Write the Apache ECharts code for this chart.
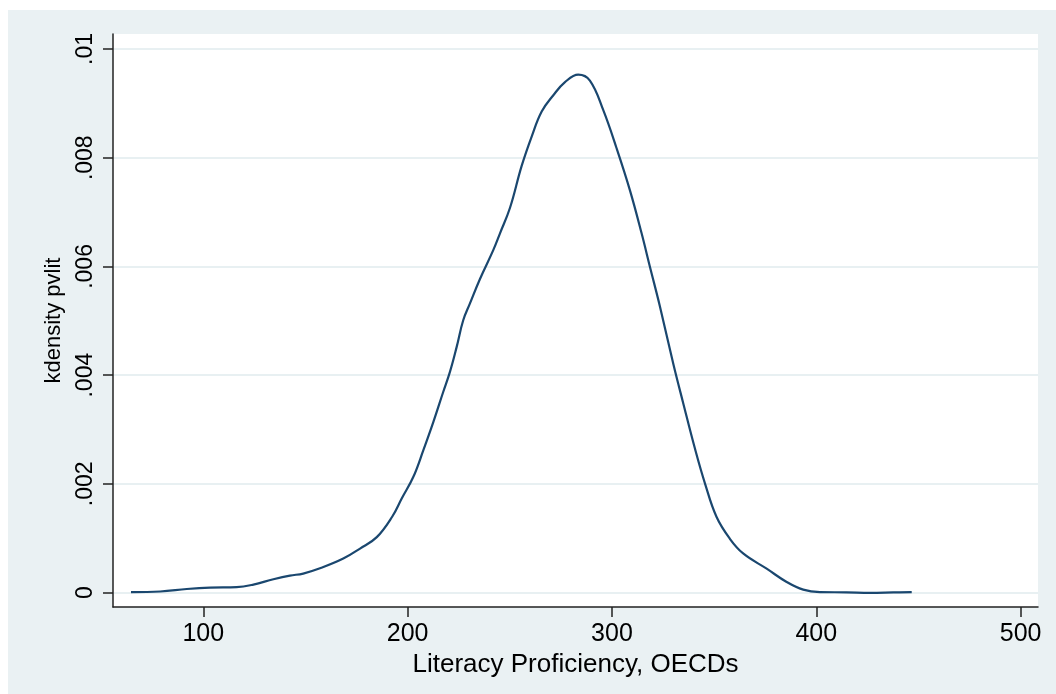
<!DOCTYPE html>
<html>
<head>
<meta charset="utf-8">
<script src="https://cdn.jsdelivr.net/npm/echarts@6/dist/echarts.min.js"></script>
<style>html,body{margin:0;padding:0;background:#fff;}#chart{width:1056px;height:694px;}</style>
</head>
<body>
<div id="chart"></div>
<script>
var xValues = [64.6, 78.9, 91.9, 103.3, 116.3, 124.5, 134.3, 142.4, 148.9, 157.1, 168.5, 176.7, 184.9, 192.5, 197.1, 202.8, 207.7, 212.6, 217.4, 220.7, 224.0, 227.2, 230.5, 235.4, 241.9, 245.2, 250.1, 255.8, 260.7, 265.6, 271.3, 277.0, 283.5, 289.2, 295.7, 302.3, 308.8, 314.5, 318.6, 323.5, 330.0, 334.9, 340.6, 345.5, 351.2, 357.7, 364.2, 375.7, 385.5, 393.6, 401.8, 414.8, 426.3, 437.7, 446.7];
var densityValues = [0.00001, 0.00002, 0.000066, 0.000092, 0.0001, 0.000147, 0.000245, 0.000313, 0.00035, 0.000447, 0.000626, 0.00081, 0.00102, 0.0014, 0.00173, 0.00213, 0.00262, 0.00314, 0.00369, 0.00406, 0.00452, 0.00501, 0.00532, 0.00577, 0.0063, 0.00661, 0.00708, 0.00785, 0.00839, 0.00885, 0.00915, 0.00939, 0.00953, 0.00942, 0.00888, 0.00817, 0.0074, 0.00661, 0.00599, 0.00526, 0.00421, 0.00348, 0.00265, 0.00201, 0.00139, 0.00099, 0.00072, 0.00044, 0.000195, 0.000055, 0.00001, 0.000005, -0.000005, 0.000003, 0.00001];
var xTicks = [100, 200, 300, 400, 500];
var yTicks = [0, 0.002, 0.004, 0.006, 0.008, 0.01];
var yTickLabels = ['0', '.002', '.004', '.006', '.008', '.01'];
var xTitle = 'Literacy Proficiency, OECDs';
var yTitle = 'kdensity pvlit';

var seriesData = xValues.map(function (x, i) { return [x, densityValues[i]]; });

var chart = echarts.init(document.getElementById('chart'), null, {renderer: 'canvas'});
var FONT = '"Liberation Sans", Arial, sans-serif';
chart.setOption({
  animation: false,
  backgroundColor: '#ffffff',
  graphic: [{
    type: 'rect', z: -10, silent: true,
    shape: {x: 8, y: 10, width: 1048, height: 684},
    style: {fill: '#eaf1f3'}
  }],
  grid: {
    left: 113, right: 18, top: 34, bottom: 87,
    show: true, backgroundColor: '#ffffff', borderWidth: 0
  },
  xAxis: {
    type: 'value',
    min: 55.8, max: 508.5,
    name: xTitle, nameLocation: 'middle', nameGap: 37,
    nameTextStyle: {fontFamily: FONT, fontSize: 26, color: '#000'},
    axisLine: {show: true, onZero: false, lineStyle: {color: '#222', width: 1.5}},
    axisTick: {show: true, length: 10, customValues: xTicks, lineStyle: {color: '#222', width: 1.5}},
    axisLabel: {customValues: xTicks, margin: 15, fontFamily: FONT, fontSize: 25, color: '#000'},
    splitLine: {show: false}
  },
  yAxis: {
    type: 'value',
    min: -0.000265, max: 0.010276,
    name: yTitle, nameLocation: 'middle', nameGap: 48, nameRotate: 90,
    nameTextStyle: {fontFamily: FONT, fontSize: 22, color: '#000'},
    axisLine: {show: true, onZero: false, lineStyle: {color: '#222', width: 1.5}},
    axisTick: {show: true, length: 10, customValues: yTicks, lineStyle: {color: '#222', width: 1.5}},
    axisLabel: {
      customValues: yTicks, rotate: 90, margin: 16,
      fontFamily: FONT, fontSize: 23, color: '#000',
      formatter: function (v) {
        for (var i = 0; i < yTicks.length; i++) { if (Math.abs(yTicks[i] - v) < 1e-9) return yTickLabels[i]; }
        return '';
      }
    },
    splitLine: {show: true, lineStyle: {color: '#e8f0f2', width: 2}}
  },
  series: [{
    type: 'line',
    data: seriesData,
    smooth: 0.4,
    showSymbol: false,
    lineStyle: {color: '#1a476f', width: 2.2},
    z: 5
  }]
});
</script>
</body>
</html>
